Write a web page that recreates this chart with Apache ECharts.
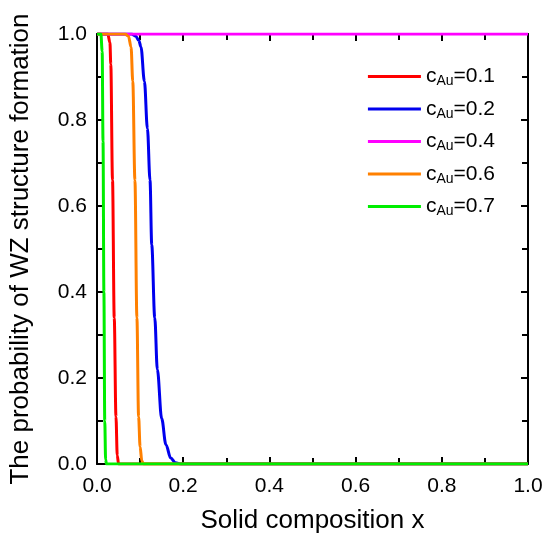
<!DOCTYPE html>
<html>
<head>
<meta charset="utf-8">
<script src="https://cdn.jsdelivr.net/npm/echarts@6/dist/echarts.min.js"></script>
<style>
  html, body { margin: 0; padding: 0; background: #fff; }
  #chart { width: 546px; height: 539px; }
</style>
</head>
<body>
<div id="chart"></div>
<script>
// values
const tickLabels = ["0.0", "0.2", "0.4", "0.6", "0.8", "1.0"];

const redX = [0, 0.025, 0.030, 0.032, 0.036, 0.040, 0.044, 0.047, 0.050, 1.0];
const redY = [1, 1, 0.98, 0.93, 0.66, 0.34, 0.11, 0.02, 0, 0];

const blueX = [0, 0.08, 0.09, 0.097, 0.102, 0.110, 0.117, 0.123, 0.127, 0.134, 0.140, 0.150, 0.160, 0.171, 0.182, 0.195, 1.0];
const blueY = [1, 1, 0.995, 0.985, 0.97, 0.89, 0.78, 0.66, 0.51, 0.34, 0.22, 0.106, 0.045, 0.014, 0.003, 0, 0];

const magentaX = [0, 1.0];
const magentaY = [1, 1];

const orangeX = [0, 0.065, 0.073, 0.079, 0.083, 0.088, 0.0926, 0.0965, 0.100, 0.104, 0.108, 1.0];
const orangeY = [1, 1, 0.995, 0.97, 0.89, 0.66, 0.34, 0.11, 0.04, 0.007, 0, 0];

const greenX = [0, 0.009, 0.012, 0.014, 0.016, 0.018, 0.020, 0.022, 1.0];
const greenY = [1, 1, 0.96, 0.75, 0.4, 0.1, 0.01, 0, 0];

const names = ["0.1", "0.2", "0.4", "0.6", "0.7"];

const zip = (xs, ys) => xs.map((x, i) => [x, ys[i]]);

const chart = echarts.init(document.getElementById("chart"));

const font = "Liberation Sans, Arial, sans-serif";

const baseAxis = {
  type: "value",
  min: 0,
  max: 1,
  interval: 0.2,
  axisLine: { show: true, onZero: false, lineStyle: { color: "#000", width: 2 } },
  axisTick: { show: true, inside: true, length: 7, lineStyle: { color: "#000", width: 2 } },
  minorTick: { show: true, splitNumber: 2, length: 6, lineStyle: { color: "#000", width: 2 } },
  splitLine: { show: false },
  minorSplitLine: { show: false },
};

const labelFmt = (v) => tickLabels[Math.round(v / 0.2)] || "";

function line(name, color, data, z) {
  return {
    name: name,
    type: "line",
    data: data,
    showSymbol: false,
    smooth: 0.35,
    smoothMonotone: "x",
    z: z,
    lineStyle: { color: color, width: 3 },
    itemStyle: { color: color },
  };
}

chart.setOption({
  animation: false,
  grid: { left: 96, right: 18, top: 34, bottom: 73 },
  legend: {
    orient: "vertical",
    right: 46,
    top: 61,
    itemGap: 10,
    itemWidth: 53,
    itemHeight: 3,
    icon: "rect",
    formatter: (n) => "c{sub|Au}=" + n,
    textStyle: {
      fontFamily: font,
      fontSize: 21,
      color: "#000",
      rich: {
        sub: { fontFamily: font, fontSize: 14, color: "#000", padding: [10, 0, 0, 0] },
      },
    },
    data: names,
  },
  xAxis: [
    Object.assign({}, baseAxis, {
      position: "bottom",
      name: "Solid composition x",
      nameLocation: "middle",
      nameGap: 44,
      nameTextStyle: { fontFamily: font, fontSize: 26, color: "#000" },
      axisLabel: { formatter: labelFmt, fontFamily: font, fontSize: 21, color: "#000", margin: 12 },
    }),
    Object.assign({}, baseAxis, { position: "top", axisLabel: { show: false } }),
  ],
  yAxis: [
    Object.assign({}, baseAxis, {
      position: "left",
      name: "The probability of WZ structure formation",
      nameLocation: "middle",
      nameGap: 63,
      nameTextStyle: { fontFamily: font, fontSize: 26, color: "#000" },
      axisLabel: { formatter: labelFmt, fontFamily: font, fontSize: 21, color: "#000", margin: 10 },
    }),
    Object.assign({}, baseAxis, { position: "right", axisLabel: { show: false } }),
  ],
  series: [
    line(names[0], "#ff0000", zip(redX, redY), 2),
    line(names[1], "#0000ee", zip(blueX, blueY), 3),
    line(names[2], "#ff00ff", zip(magentaX, magentaY), 4),
    line(names[3], "#ff8000", zip(orangeX, orangeY), 5),
    line(names[4], "#00ee00", zip(greenX, greenY), 6),
  ],
});
</script>
</body>
</html>
